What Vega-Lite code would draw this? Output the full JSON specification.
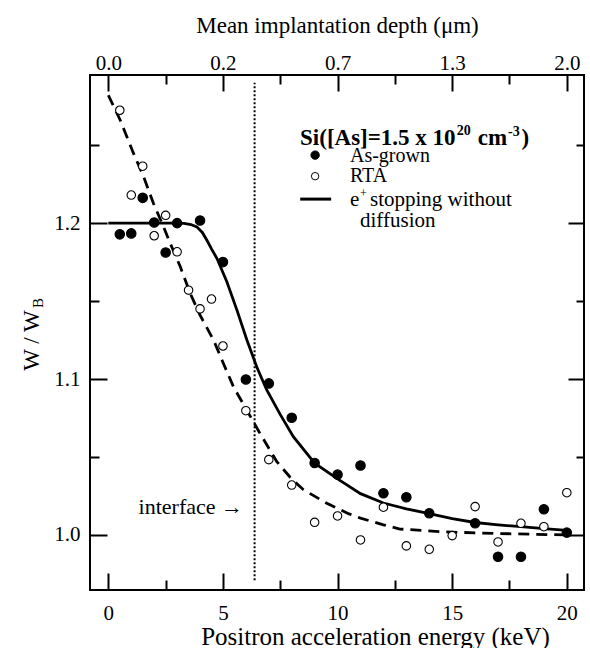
{
  "$schema": "https://vega.github.io/schema/vega-lite/v6.json",
  "width": 494,
  "height": 515,
  "autosize": {"type": "none"},
  "padding": {"left": 90, "top": 75, "right": 6, "bottom": 58},
  "background": "white",
  "config": {
    "view": {"stroke": "black", "strokeWidth": 2},
    "font": "Liberation Serif",
    "axis": {
      "domain": false,
      "grid": false,
      "labelFont": "Liberation Serif",
      "labelFontSize": 21,
      "labelColor": "black",
      "tickColor": "black",
      "tickWidth": 2,
      "titleFont": "Liberation Serif",
      "titleFontWeight": "normal",
      "titleColor": "black",
      "labelFlush": false
    }
  },
  "datasets": {
    "pts": [
      {"sample": "As-grown", "E": 0.5, "W": 1.1928},
      {"sample": "As-grown", "E": 1.0, "W": 1.1934},
      {"sample": "As-grown", "E": 1.5, "W": 1.2162},
      {"sample": "As-grown", "E": 2.0, "W": 1.2004},
      {"sample": "As-grown", "E": 2.5, "W": 1.1812},
      {"sample": "As-grown", "E": 3.0, "W": 1.2},
      {"sample": "As-grown", "E": 4.0, "W": 1.2017},
      {"sample": "As-grown", "E": 5.0, "W": 1.175},
      {"sample": "As-grown", "E": 6.0, "W": 1.0997},
      {"sample": "As-grown", "E": 7.0, "W": 1.0972},
      {"sample": "As-grown", "E": 8.0, "W": 1.0752},
      {"sample": "As-grown", "E": 9.0, "W": 1.0462},
      {"sample": "As-grown", "E": 10.0, "W": 1.0387},
      {"sample": "As-grown", "E": 11.0, "W": 1.0445},
      {"sample": "As-grown", "E": 12.0, "W": 1.0267},
      {"sample": "As-grown", "E": 13.0, "W": 1.0242},
      {"sample": "As-grown", "E": 14.0, "W": 1.0139},
      {"sample": "As-grown", "E": 16.0, "W": 1.0075},
      {"sample": "As-grown", "E": 17.0, "W": 0.986},
      {"sample": "As-grown", "E": 18.0, "W": 0.986},
      {"sample": "As-grown", "E": 19.0, "W": 1.0165},
      {"sample": "As-grown", "E": 20.0, "W": 1.0015},
      {"sample": "RTA", "E": 0.5, "W": 1.2724},
      {"sample": "RTA", "E": 1.0, "W": 1.218},
      {"sample": "RTA", "E": 1.5, "W": 1.2365},
      {"sample": "RTA", "E": 2.0, "W": 1.1919},
      {"sample": "RTA", "E": 2.5, "W": 1.205},
      {"sample": "RTA", "E": 3.0, "W": 1.1816},
      {"sample": "RTA", "E": 3.5, "W": 1.157},
      {"sample": "RTA", "E": 4.0, "W": 1.145},
      {"sample": "RTA", "E": 4.5, "W": 1.1513},
      {"sample": "RTA", "E": 5.0, "W": 1.1212},
      {"sample": "RTA", "E": 6.0, "W": 1.0797},
      {"sample": "RTA", "E": 7.0, "W": 1.0483},
      {"sample": "RTA", "E": 8.0, "W": 1.032},
      {"sample": "RTA", "E": 9.0, "W": 1.0081},
      {"sample": "RTA", "E": 10.0, "W": 1.0122},
      {"sample": "RTA", "E": 11.0, "W": 0.9968},
      {"sample": "RTA", "E": 12.0, "W": 1.0178},
      {"sample": "RTA", "E": 13.0, "W": 0.993},
      {"sample": "RTA", "E": 14.0, "W": 0.9908},
      {"sample": "RTA", "E": 15.0, "W": 0.9996},
      {"sample": "RTA", "E": 16.0, "W": 1.0182},
      {"sample": "RTA", "E": 17.0, "W": 0.9955},
      {"sample": "RTA", "E": 18.0, "W": 1.0075},
      {"sample": "RTA", "E": 19.0, "W": 1.0053},
      {"sample": "RTA", "E": 20.0, "W": 1.0271}
    ],
    "curves": [
      {"curve": "fit", "E": 0.0, "W": 1.2},
      {"curve": "fit", "E": 1.0, "W": 1.2},
      {"curve": "fit", "E": 2.0, "W": 1.2},
      {"curve": "fit", "E": 3.0, "W": 1.2},
      {"curve": "fit", "E": 3.3, "W": 1.1998},
      {"curve": "fit", "E": 3.6, "W": 1.1991},
      {"curve": "fit", "E": 3.86, "W": 1.1976},
      {"curve": "fit", "E": 4.1, "W": 1.194},
      {"curve": "fit", "E": 4.3, "W": 1.189},
      {"curve": "fit", "E": 4.5, "W": 1.1835},
      {"curve": "fit", "E": 4.74, "W": 1.1773},
      {"curve": "fit", "E": 5.17, "W": 1.1624},
      {"curve": "fit", "E": 5.61, "W": 1.1442},
      {"curve": "fit", "E": 6.04, "W": 1.1252},
      {"curve": "fit", "E": 6.48, "W": 1.1075},
      {"curve": "fit", "E": 6.91, "W": 1.093},
      {"curve": "fit", "E": 7.49, "W": 1.0775},
      {"curve": "fit", "E": 8.07, "W": 1.063},
      {"curve": "fit", "E": 9.0, "W": 1.046},
      {"curve": "fit", "E": 10.0, "W": 1.036},
      {"curve": "fit", "E": 11.0, "W": 1.0265},
      {"curve": "fit", "E": 12.0, "W": 1.0205},
      {"curve": "fit", "E": 13.0, "W": 1.0168},
      {"curve": "fit", "E": 14.0, "W": 1.0137},
      {"curve": "fit", "E": 15.0, "W": 1.0105},
      {"curve": "fit", "E": 16.0, "W": 1.008},
      {"curve": "fit", "E": 17.0, "W": 1.0065},
      {"curve": "fit", "E": 18.0, "W": 1.0053},
      {"curve": "fit", "E": 19.0, "W": 1.004},
      {"curve": "fit", "E": 20.0, "W": 1.003},
      {"curve": "rta", "E": 0.0, "W": 1.282},
      {"curve": "rta", "E": 0.52, "W": 1.266},
      {"curve": "rta", "E": 1.1, "W": 1.2447},
      {"curve": "rta", "E": 1.54, "W": 1.2297},
      {"curve": "rta", "E": 1.97, "W": 1.2126},
      {"curve": "rta", "E": 2.41, "W": 1.1976},
      {"curve": "rta", "E": 2.7, "W": 1.187},
      {"curve": "rta", "E": 3.14, "W": 1.172},
      {"curve": "rta", "E": 3.57, "W": 1.155},
      {"curve": "rta", "E": 4.0, "W": 1.141},
      {"curve": "rta", "E": 4.59, "W": 1.125},
      {"curve": "rta", "E": 5.02, "W": 1.11},
      {"curve": "rta", "E": 5.46, "W": 1.095},
      {"curve": "rta", "E": 6.04, "W": 1.08},
      {"curve": "rta", "E": 6.62, "W": 1.065},
      {"curve": "rta", "E": 7.35, "W": 1.047},
      {"curve": "rta", "E": 7.93, "W": 1.037},
      {"curve": "rta", "E": 8.51, "W": 1.029},
      {"curve": "rta", "E": 9.53, "W": 1.0203},
      {"curve": "rta", "E": 10.5, "W": 1.0135},
      {"curve": "rta", "E": 11.0, "W": 1.0108},
      {"curve": "rta", "E": 12.0, "W": 1.0065},
      {"curve": "rta", "E": 12.72, "W": 1.0038},
      {"curve": "rta", "E": 14.6, "W": 1.002},
      {"curve": "rta", "E": 16.8, "W": 1.001},
      {"curve": "rta", "E": 20.0, "W": 1.0}
    ]
  },
  "resolve": {"axis": {"x": "independent", "y": "independent"}},
  "layer": [
    {
      "data": {"name": "curves"},
      "transform": [{"filter": "datum.curve === 'fit'"}],
      "mark": {"type": "line", "color": "black", "strokeWidth": 2.8},
      "encoding": {
        "x": {
          "field": "E", "type": "quantitative",
          "scale": {"domain": [-0.8, 20.75], "nice": false, "zero": false},
          "axis": {
            "orient": "bottom",
            "values": [0, 2.5, 5, 7.5, 10, 12.5, 15, 17.5, 20],
            "labels": false,
            "tickSize": {"condition": {"test": "datum.value % 5 === 0", "value": -17}, "value": -10},
            "title": null
          }
        },
        "y": {
          "field": "W", "type": "quantitative",
          "scale": {"domain": [0.9647, 1.295], "nice": false, "zero": false},
          "axis": {
            "orient": "left",
            "values": [1.0, 1.05, 1.1, 1.15, 1.2, 1.25],
            "labels": false,
            "tickSize": {"condition": {"test": "abs(datum.value * 10 - round(datum.value * 10)) < 0.001", "value": -17}, "value": -9},
            "title": null
          }
        }
      }
    },
    {
      "data": {"name": "curves"},
      "transform": [{"filter": "datum.curve === 'rta'"}],
      "mark": {"type": "line", "color": "black", "strokeWidth": 2.8, "strokeDash": [11, 7]},
      "encoding": {
        "x": {
          "field": "E", "type": "quantitative",
          "scale": {"domain": [-0.8, 20.75], "nice": false, "zero": false},
          "axis": {
            "orient": "top",
            "values": [0, 2.5, 5, 7.5, 10, 12.5, 15, 17.5, 20],
            "labels": false,
            "tickSize": {"condition": {"test": "datum.value % 5 === 0", "value": -16}, "value": -9},
            "title": null
          }
        },
        "y": {
          "field": "W", "type": "quantitative",
          "scale": {"domain": [0.9647, 1.295], "nice": false, "zero": false},
          "axis": {
            "orient": "right",
            "values": [1.0, 1.05, 1.1, 1.15, 1.2, 1.25],
            "labels": false,
            "tickSize": {"condition": {"test": "abs(datum.value * 10 - round(datum.value * 10)) < 0.001", "value": -16}, "value": -8},
            "title": null
          }
        }
      }
    },
    {
      "data": {"values": [{}]},
      "mark": {"type": "rule", "color": "black", "strokeWidth": 2, "strokeDash": [2, 2]},
      "encoding": {
        "x": {
          "datum": 6.38, "type": "quantitative",
          "axis": {
            "orient": "top",
            "values": [0, 5, 10, 15, 20],
            "ticks": false,
            "labelExpr": "datum.value === 0 ? '0.0' : datum.value === 5 ? '0.2' : datum.value === 10 ? '0.7' : datum.value === 15 ? '1.3' : '2.0'",
            "labelBaseline": "alphabetic",
            "labelPadding": 5.5,
            "title": "Mean implantation depth (μm)",
            "titleFontSize": 23,
            "titleBaseline": "alphabetic",
            "titleAlign": "center",
            "titleX": 247,
            "titleY": -43
          }
        },
        "y": {"datum": 0.971, "type": "quantitative", "axis": null},
        "y2": {"datum": 1.29}
      }
    },
    {
      "data": {"name": "pts"},
      "mark": {"type": "point", "shape": "circle", "filled": true, "stroke": "black", "strokeWidth": 1.1, "opacity": 1},
      "encoding": {
        "x": {
          "field": "E", "type": "quantitative",
          "axis": {
            "orient": "bottom",
            "values": [0, 5, 10, 15, 20],
            "ticks": false,
            "format": "d",
            "labelBaseline": "alphabetic",
            "labelPadding": 29,
            "title": "Positron acceleration energy (keV)",
            "titleFontSize": 25,
            "titleBaseline": "alphabetic",
            "titleAlign": "center",
            "titleX": 285,
            "titleY": 54
          }
        },
        "y": {
          "field": "W", "type": "quantitative",
          "axis": {
            "orient": "left",
            "values": [1.0, 1.1, 1.2],
            "ticks": false,
            "format": ".1f",
            "labelPadding": 10,
            "title": "W / W",
            "titleFontSize": 23,
            "titleAngle": 270,
            "titleBaseline": "middle",
            "titleAlign": "center",
            "titleX": -59,
            "titleY": 265
          }
        },
        "fill": {"field": "sample", "type": "nominal", "scale": {"domain": ["As-grown", "RTA"], "range": ["black", "white"]}, "legend": null},
        "size": {"field": "sample", "type": "nominal", "scale": {"domain": ["As-grown", "RTA"], "range": [90, 72]}, "legend": null}
      }
    },
    {
      "data": {"values": [{}]},
      "mark": {"type": "text", "text": "interface →", "font": "Liberation Serif", "fontSize": 22, "align": "right", "baseline": "middle", "color": "black"},
      "encoding": {
        "x": {"datum": 5.877, "type": "quantitative", "axis": null},
        "y": {"datum": 1.0179, "type": "quantitative", "axis": null}
      }
    },
    {
      "data": {"values": [{}]},
      "mark": {"type": "text", "text": "B", "font": "Liberation Serif", "fontSize": 15, "align": "center", "baseline": "middle", "angle": 270, "color": "black", "clip": false},
      "encoding": {
        "x": {"datum": -3.05, "type": "quantitative", "axis": null},
        "y": {"datum": 1.1487, "type": "quantitative", "axis": null}
      }
    },
    {
      "data": {"values": [{}]},
      "mark": {"type": "text", "text": "Si([As]=1.5 x 10", "font": "Liberation Serif", "fontSize": 23, "fontWeight": "bold", "align": "left", "baseline": "alphabetic", "color": "black"},
      "encoding": {
        "x": {"datum": 8.363, "type": "quantitative", "axis": null},
        "y": {"datum": 1.2501, "type": "quantitative", "axis": null}
      }
    },
    {
      "data": {"values": [{}]},
      "mark": {"type": "text", "text": "20", "font": "Liberation Serif", "fontSize": 14, "fontWeight": "bold", "align": "left", "baseline": "alphabetic", "color": "black"},
      "encoding": {
        "x": {"datum": 15.2, "type": "quantitative", "axis": null},
        "y": {"datum": 1.2565, "type": "quantitative", "axis": null}
      }
    },
    {
      "data": {"values": [{}]},
      "mark": {"type": "text", "text": "cm", "font": "Liberation Serif", "fontSize": 23, "fontWeight": "bold", "align": "left", "baseline": "alphabetic", "color": "black"},
      "encoding": {
        "x": {"datum": 16.12, "type": "quantitative", "axis": null},
        "y": {"datum": 1.2501, "type": "quantitative", "axis": null}
      }
    },
    {
      "data": {"values": [{}]},
      "mark": {"type": "text", "text": "-3", "font": "Liberation Serif", "fontSize": 14, "fontWeight": "bold", "align": "left", "baseline": "alphabetic", "color": "black"},
      "encoding": {
        "x": {"datum": 17.44, "type": "quantitative", "axis": null},
        "y": {"datum": 1.2559, "type": "quantitative", "axis": null}
      }
    },
    {
      "data": {"values": [{}]},
      "mark": {"type": "text", "text": ")", "font": "Liberation Serif", "fontSize": 23, "fontWeight": "bold", "align": "left", "baseline": "alphabetic", "color": "black"},
      "encoding": {
        "x": {"datum": 18.02, "type": "quantitative", "axis": null},
        "y": {"datum": 1.2501, "type": "quantitative", "axis": null}
      }
    },
    {
      "data": {"values": [{}]},
      "mark": {"type": "point", "shape": "circle", "filled": true, "fill": "black", "stroke": "black", "strokeWidth": 1, "size": 70, "opacity": 1},
      "encoding": {
        "x": {"datum": 9.02, "type": "quantitative", "axis": null},
        "y": {"datum": 1.2436, "type": "quantitative", "axis": null}
      }
    },
    {
      "data": {"values": [{}]},
      "mark": {"type": "point", "shape": "circle", "filled": true, "fill": "white", "stroke": "black", "strokeWidth": 1, "size": 55, "opacity": 1},
      "encoding": {
        "x": {"datum": 9.02, "type": "quantitative", "axis": null},
        "y": {"datum": 1.2301, "type": "quantitative", "axis": null}
      }
    },
    {
      "data": {"values": [{}]},
      "mark": {"type": "rule", "color": "black", "strokeWidth": 3},
      "encoding": {
        "x": {"datum": 8.37, "type": "quantitative", "axis": null},
        "x2": {"datum": 9.72},
        "y": {"datum": 1.2154, "type": "quantitative", "axis": null}
      }
    },
    {
      "data": {"values": [{}]},
      "mark": {"type": "text", "text": "As-grown", "font": "Liberation Serif", "fontSize": 20, "align": "left", "baseline": "middle", "color": "black"},
      "encoding": {
        "x": {"datum": 10.54, "type": "quantitative", "axis": null},
        "y": {"datum": 1.2432, "type": "quantitative", "axis": null}
      }
    },
    {
      "data": {"values": [{}]},
      "mark": {"type": "text", "text": "RTA", "font": "Liberation Serif", "fontSize": 20, "align": "left", "baseline": "middle", "color": "black"},
      "encoding": {
        "x": {"datum": 10.54, "type": "quantitative", "axis": null},
        "y": {"datum": 1.2301, "type": "quantitative", "axis": null}
      }
    },
    {
      "data": {"values": [{}]},
      "mark": {"type": "text", "text": "e", "font": "Liberation Serif", "fontSize": 21, "align": "left", "baseline": "alphabetic", "color": "black"},
      "encoding": {
        "x": {"datum": 10.54, "type": "quantitative", "axis": null},
        "y": {"datum": 1.2109, "type": "quantitative", "axis": null}
      }
    },
    {
      "data": {"values": [{}]},
      "mark": {"type": "text", "text": "+", "font": "Liberation Serif", "fontSize": 12, "align": "left", "baseline": "alphabetic", "color": "black"},
      "encoding": {
        "x": {"datum": 10.98, "type": "quantitative", "axis": null},
        "y": {"datum": 1.2165, "type": "quantitative", "axis": null}
      }
    },
    {
      "data": {"values": [{}]},
      "mark": {"type": "text", "text": "stopping without", "font": "Liberation Serif", "fontSize": 21, "align": "left", "baseline": "alphabetic", "color": "black"},
      "encoding": {
        "x": {"datum": 11.414, "type": "quantitative", "axis": null},
        "y": {"datum": 1.2109, "type": "quantitative", "axis": null}
      }
    },
    {
      "data": {"values": [{}]},
      "mark": {"type": "text", "text": "diffusion", "font": "Liberation Serif", "fontSize": 21, "align": "left", "baseline": "alphabetic", "color": "black"},
      "encoding": {
        "x": {"datum": 10.98, "type": "quantitative", "axis": null},
        "y": {"datum": 1.1974, "type": "quantitative", "axis": null}
      }
    }
  ]
}
